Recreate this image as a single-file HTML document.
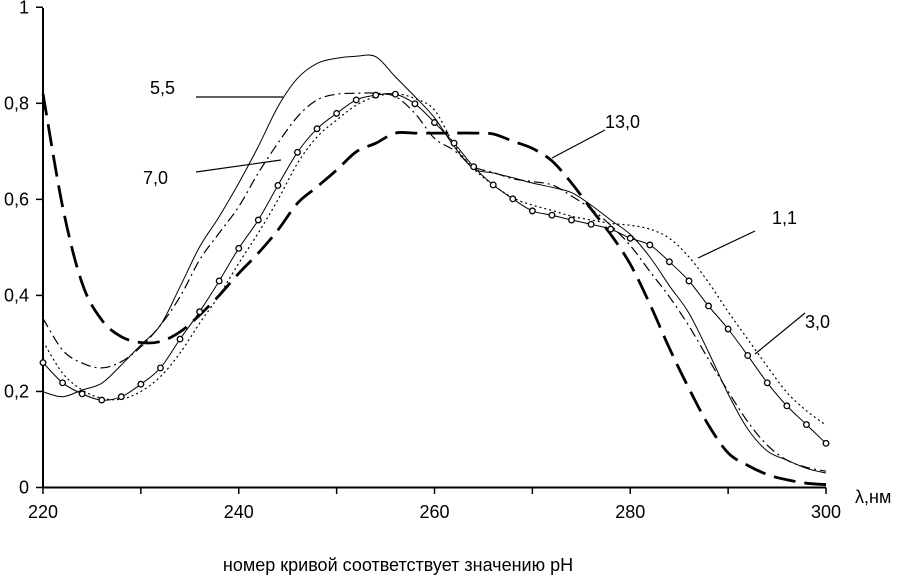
<!DOCTYPE html>
<html><head><meta charset="utf-8"><style>
body{margin:0;background:#fff}
svg{display:block;font-family:"Liberation Sans",Arial,sans-serif}
</style></head><body>
<svg id="chart" width="901" height="575" viewBox="0 0 901 575" xmlns="http://www.w3.org/2000/svg">
<g id="axes"></g>
<g id="series"></g>
<g id="annot"></g>
</svg>
<script>
const wavelengths=[220,222,224,226,228,230,232,234,236,238,240,242,244,246,248,250,252,254,256,258,260,262,264,266,268,270,272,274,276,278,280,282,284,286,288,290,292,294,296,298,300];
const ph30=[0.26,0.218,0.195,0.182,0.189,0.215,0.249,0.309,0.366,0.43,0.498,0.557,0.629,0.698,0.747,0.779,0.807,0.817,0.819,0.799,0.76,0.717,0.668,0.63,0.601,0.576,0.567,0.557,0.548,0.538,0.519,0.505,0.47,0.43,0.378,0.33,0.275,0.218,0.17,0.131,0.092];
const ph55=[0.199,0.189,0.203,0.217,0.255,0.297,0.338,0.418,0.501,0.564,0.634,0.71,0.793,0.852,0.883,0.894,0.898,0.897,0.855,0.814,0.77,0.71,0.664,0.655,0.645,0.634,0.625,0.614,0.588,0.557,0.527,0.48,0.42,0.363,0.282,0.195,0.122,0.076,0.057,0.04,0.03];
const ph70=[0.352,0.286,0.259,0.249,0.262,0.293,0.338,0.397,0.474,0.53,0.585,0.655,0.717,0.772,0.807,0.819,0.821,0.821,0.814,0.779,0.727,0.702,0.668,0.656,0.643,0.637,0.63,0.607,0.58,0.546,0.504,0.45,0.397,0.336,0.267,0.2,0.137,0.088,0.057,0.042,0.034];
const ph11=[0.304,0.238,0.203,0.186,0.184,0.2,0.231,0.28,0.342,0.4,0.467,0.53,0.599,0.675,0.73,0.765,0.796,0.814,0.82,0.81,0.786,0.714,0.664,0.63,0.603,0.588,0.577,0.565,0.557,0.55,0.546,0.538,0.519,0.48,0.427,0.366,0.309,0.252,0.198,0.16,0.13];
const ph130=[0.82,0.585,0.425,0.349,0.314,0.302,0.304,0.324,0.359,0.4,0.446,0.488,0.536,0.592,0.626,0.661,0.699,0.717,0.738,0.738,0.738,0.738,0.738,0.736,0.721,0.706,0.68,0.634,0.58,0.527,0.465,0.382,0.29,0.206,0.13,0.072,0.046,0.027,0.016,0.009,0.006];
const yTicks=[0,0.2,0.4,0.6,0.8,1];
const yTickLabels=["0","0,2","0,4","0,6","0,8","1"];
const xTicks=[220,240,260,280,300];
const xMinorTicks=[230,250,270,290];

const NS="http://www.w3.org/2000/svg";
function xs(v){return 43+(v-220)*(826-43)/80;}
function ys(v){return 487.5-v*480.25;}
function el(tag,attrs,parent,text){const e=document.createElementNS(NS,tag);for(const k in attrs)e.setAttribute(k,attrs[k]);if(text!==undefined)e.textContent=text;parent.appendChild(e);return e;}
const axes=document.getElementById('axes'),series=document.getElementById('series'),annot=document.getElementById('annot');

let a=el('line',{x1:43,y1:8,x2:43,y2:487.5,stroke:'#000','stroke-width':2},axes);


a=el('line',{x1:43,y1:487.5,x2:826,y2:487.5,stroke:'#000','stroke-width':2},axes);


yTicks.forEach((t,i)=>{
  const tk=el('line',{x1:36,y1:ys(t),x2:43,y2:ys(t),stroke:'#000','stroke-width':1.5},axes);
  
  
  const lb=el('text',{x:29,y:ys(t)+6,'text-anchor':'end','font-size':18},axes,yTickLabels[i]);
  
  
});
xTicks.concat(xMinorTicks).forEach(t=>{
  const tk=el('line',{x1:xs(t),y1:487.5,x2:xs(t),y2:494,stroke:'#000','stroke-width':1.5},axes);
  
  
});
xTicks.forEach(t=>{
  const lb=el('text',{x:xs(t),y:518,'text-anchor':'middle','font-size':18},axes,String(t));
  
  
});
a=el('text',{x:855,y:503,'font-size':18},axes,'λ,нм');


a=el('text',{x:398,y:571,'text-anchor':'middle','font-size':18},axes,'номер кривой соответствует значению pH');



function smoothPath(vals){
  const P=vals.map((v,i)=>[xs(wavelengths[i]),ys(v)]);
  let d='M'+P[0][0].toFixed(1)+','+P[0][1].toFixed(1);
  for(let i=0;i<P.length-1;i++){
    const p0=P[i-1]||P[i],p1=P[i],p2=P[i+1],p3=P[i+2]||P[i+1];
    const c1=[p1[0]+(p2[0]-p0[0])/6,p1[1]+(p2[1]-p0[1])/6];
    const c2=[p2[0]-(p3[0]-p1[0])/6,p2[1]-(p3[1]-p1[1])/6];
    d+=' C'+c1[0].toFixed(1)+','+c1[1].toFixed(1)+' '+c2[0].toFixed(1)+','+c2[1].toFixed(1)+' '+p2[0].toFixed(1)+','+p2[1].toFixed(1);
  }
  return d;
}
function curve(vals,name,w,dash){
  const p=el('path',{d:smoothPath(vals),fill:'none',stroke:'#000','stroke-width':w,'stroke-linejoin':'round'},series);
  if(dash)p.setAttribute('stroke-dasharray',dash);
  
  
}
curve(ph130,'curve-ph-13-0',2.8,'22,9');
curve(ph70,'curve-ph-7-0',1.2,'10,4,2,4');
curve(ph11,'curve-ph-1-1',1.2,'2,3');
curve(ph55,'curve-ph-5-5',1);
curve(ph30,'curve-ph-3-0',1);
ph30.forEach((v,i)=>{
  const m=el('circle',{cx:xs(wavelengths[i]),cy:ys(v),r:2.8,fill:'#fff',stroke:'#000','stroke-width':1.3},series);
  
  
});

const labels=[["5,5",150,94,196,97,283,97],["7,0",143,184,196,172,281,160],["13,0",605,128,605,130,552,158],["1,1",772,224,755,231,698,258],["3,0",805,328,805,313,755,354]];
labels.forEach(l=>{
  const t=el('text',{x:l[1],y:l[2],'font-size':18},annot,l[0]);
  
  
  const ln=el('line',{x1:l[3],y1:l[4],x2:l[5],y2:l[6],stroke:'#000','stroke-width':1.2},annot);
  
  
});
</script>
</body></html>
